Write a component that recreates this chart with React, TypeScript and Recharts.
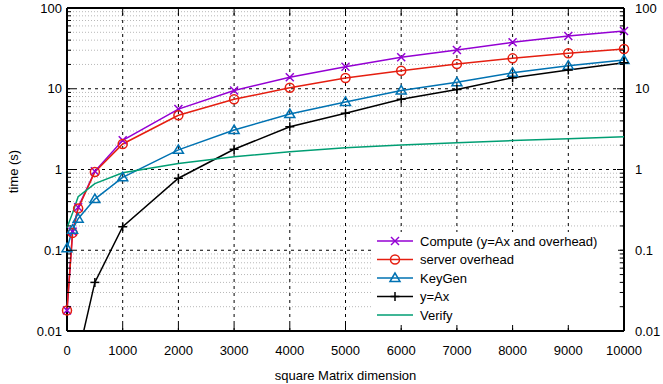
import React from 'react';
import { LineChart, Line, XAxis, YAxis, ReferenceLine, Legend } from 'recharts';

// matrix size n, times in seconds
const sizes = [0, 100, 200, 500, 1000, 2000, 3000, 4000, 5000, 6000, 7000, 8000, 9000, 10000];
const compute = [0.018, 0.17, 0.34, 0.95, 2.3, 5.6, 9.5, 13.9, 18.7, 24.5, 30.2, 37.6, 45, 52];
const serverOverhead = [0.018, 0.164, 0.33, 0.93, 2.07, 4.7, 7.4, 10.3, 13.6, 16.7, 20.3, 23.8, 27.5, 31];
const keyGen = [0.106, 0.18, 0.246, 0.43, 0.8, 1.75, 3.08, 4.86, 6.86, 9.5, 12, 15.8, 19.3, 22.7];
const yAx = [0.0005, 0.001, 0.005, 0.04, 0.196, 0.78, 1.78, 3.39, 4.97, 7.4, 9.8, 13.7, 17.1, 21];
const verify = [0.19, 0.29, 0.46, 0.67, 0.91, 1.19, 1.44, 1.66, 1.86, 2.01, 2.15, 2.28, 2.4, 2.55];

const X_TICKS = [0, 1000, 2000, 3000, 4000, 5000, 6000, 7000, 8000, 9000, 10000];
const Y_DECADES = [0.01, 0.1, 1, 10, 100];
const Y_MINOR_STEPS = [2, 3, 4, 5, 6, 7, 8, 9];

const Y_MINOR = Y_DECADES.slice(0, -1).flatMap(d => Y_MINOR_STEPS.map(m => +(d * m).toPrecision(3)));
const Y_TICKS = [...Y_DECADES, ...Y_MINOR].sort((a, b) => a - b);

const data = sizes.map((n, i) => ({
    n,
    compute: compute[i],
    server: serverOverhead[i],
    keygen: keyGen[i],
    yax: yAx[i],
    verify: verify[i],
}));

const SERIES = [
    { key: 'compute', name: 'Compute (y=Ax and overhead)', color: '#9400D3', marker: 'x' },
    { key: 'server', name: 'server overhead', color: '#E51E10', marker: 'circle' },
    { key: 'keygen', name: 'KeyGen', color: '#0072B2', marker: 'triangle' },
    { key: 'yax', name: 'y=Ax', color: '#000000', marker: 'plus' },
    { key: 'verify', name: 'Verify', color: '#009E73', marker: 'none' },
];

const FONT = '"Liberation Sans", Arial, sans-serif';
const PLOT_TOP = 8;
const PLOT_RIGHT = 624;

const Marker = ({ type, cx, cy, color }: { type: string; cx: number; cy: number; color: string }) => {
    if (type === 'x') {
        return (
            <g stroke={color} strokeWidth={1.5}>
                <line x1={cx - 4} y1={cy - 4} x2={cx + 4} y2={cy + 4} />
                <line x1={cx - 4} y1={cy + 4} x2={cx + 4} y2={cy - 4} />
            </g>
        );
    }
    if (type === 'circle') {
        return <circle cx={cx} cy={cy} r={4.5} fill="none" stroke={color} strokeWidth={1.5} />;
    }
    if (type === 'triangle') {
        return (
            <polygon
                points={`${cx},${cy - 5} ${cx - 5},${cy + 3.5} ${cx + 5},${cy + 3.5}`}
                fill="none"
                stroke={color}
                strokeWidth={1.5}
            />
        );
    }
    if (type === 'plus') {
        return (
            <g stroke={color} strokeWidth={1.5}>
                <line x1={cx - 4.5} y1={cy} x2={cx + 4.5} y2={cy} />
                <line x1={cx} y1={cy - 4.5} x2={cx} y2={cy + 4.5} />
            </g>
        );
    }
    return null;
};

const YTick = ({ x, y, payload }: any) => {
    const v = payload.value;
    const major = Y_DECADES.includes(v);
    const len = major ? 7 : 4;
    return (
        <g>
            <line x1={x} x2={x + len} y1={y} y2={y} stroke="#000" />
            <line x1={PLOT_RIGHT} x2={PLOT_RIGHT - len} y1={y} y2={y} stroke="#000" />
            {major && (
                <>
                    <text x={x - 5} y={y} dy={4.5} textAnchor="end" fontSize={13} fontFamily={FONT} fill="#000">
                        {String(v)}
                    </text>
                    <text x={PLOT_RIGHT + 11} y={y} dy={4.5} textAnchor="start" fontSize={13} fontFamily={FONT} fill="#000">
                        {String(v)}
                    </text>
                </>
            )}
        </g>
    );
};

const XTick = ({ x, y, payload }: any) => (
    <g>
        <line x1={x} x2={x} y1={y} y2={y - 7} stroke="#000" />
        <line x1={x} x2={x} y1={PLOT_TOP} y2={PLOT_TOP + 7} stroke="#000" />
        <text x={x} y={y + 24} textAnchor="middle" fontSize={13} fontFamily={FONT} fill="#000">
            {payload.value}
        </text>
    </g>
);

const LegendBox = () => (
    <div style={{ background: '#fff', width: 246, height: 93, fontFamily: FONT, fontSize: 13 }}>
        <svg width={246} height={93}>
            {SERIES.map((s, i) => {
                const cy = 9 + i * 18.5;
                return (
                    <g key={s.key}>
                        <line x1={5} x2={41} y1={cy} y2={cy} stroke={s.color} strokeWidth={1.5} />
                        <Marker type={s.marker} cx={23} cy={cy} color={s.color} />
                        <text x={48} y={cy} dy={4.5} fontSize={13} fontFamily={FONT} fill="#000">
                            {s.name}
                        </text>
                    </g>
                );
            })}
        </svg>
    </div>
);

export default function App() {
    return (
        <div style={{ position: 'absolute', left: 0, top: 0, width: 663, height: 384, background: '#fff' }}>
            <LineChart width={663} height={384} data={data} margin={{ top: 8, right: 39, bottom: 0, left: 0 }}>
                <XAxis
                    dataKey="n"
                    type="number"
                    domain={[0, 10000]}
                    ticks={X_TICKS}
                    interval={0}
                    height={53}
                    tickSize={0}
                    tickMargin={0}
                    axisLine={false}
                    tickLine={false}
                    tick={<XTick />}
                    label={{
                        content: ({ viewBox }: any) => (
                            <text
                                x={viewBox.x + viewBox.width / 2}
                                y={380}
                                textAnchor="middle"
                                fontSize={13}
                                fontFamily={FONT}
                                fill="#000"
                            >
                                square Matrix dimension
                            </text>
                        ),
                    }}
                />
                <YAxis
                    scale="log"
                    domain={[0.01, 100]}
                    allowDataOverflow
                    ticks={Y_TICKS}
                    interval={0}
                    width={67}
                    tickSize={0}
                    tickMargin={0}
                    axisLine={false}
                    tickLine={false}
                    tick={<YTick />}
                    label={{
                        content: ({ viewBox }: any) => {
                            const cx = 13;
                            const cy = viewBox.y + viewBox.height / 2 + 2;
                            return (
                                <text
                                    x={cx}
                                    y={cy}
                                    transform={`rotate(-90 ${cx} ${cy})`}
                                    textAnchor="middle"
                                    dominantBaseline="central"
                                    fontSize={13}
                                    fontFamily={FONT}
                                    fill="#000"
                                >
                                    time (s)
                                </text>
                            );
                        },
                    }}
                />
                {Y_MINOR.map(v => (
                    <ReferenceLine key={`m${v}`} y={v} stroke="#b8b8b8" strokeDasharray="1 2" />
                ))}
                {Y_DECADES.slice(1, -1).map(v => (
                    <ReferenceLine key={`d${v}`} y={v} stroke="#000" strokeDasharray="3 4" />
                ))}
                {X_TICKS.slice(1, -1).map(v => (
                    <ReferenceLine key={`x${v}`} x={v} stroke="#000" strokeDasharray="3 4" />
                ))}
                <ReferenceLine y={0.01} stroke="#000" strokeWidth={2} />
                <ReferenceLine y={100} stroke="#000" strokeWidth={2} />
                <ReferenceLine x={0} stroke="#000" strokeWidth={2} />
                <ReferenceLine x={10000} stroke="#000" strokeWidth={2} />
                {SERIES.map(s => (
                    <Line
                        key={s.key}
                        dataKey={s.key}
                        name={s.name}
                        stroke={s.color}
                        strokeWidth={1.5}
                        isAnimationActive={false}
                        activeDot={false}
                        dot={
                            s.marker === 'none'
                                ? false
                                : (p: any) => (
                                      <Marker key={`${s.key}-${p.index}`} type={s.marker} cx={p.cx} cy={p.cy} color={s.color} />
                                  )
                        }
                    />
                ))}
                <Legend
                    layout="vertical"
                    align="center"
                    verticalAlign="middle"
                    wrapperStyle={{ left: 372, top: 232, width: 246, height: 93 }}
                    content={() => <LegendBox />}
                />
            </LineChart>
        </div>
    );
}
